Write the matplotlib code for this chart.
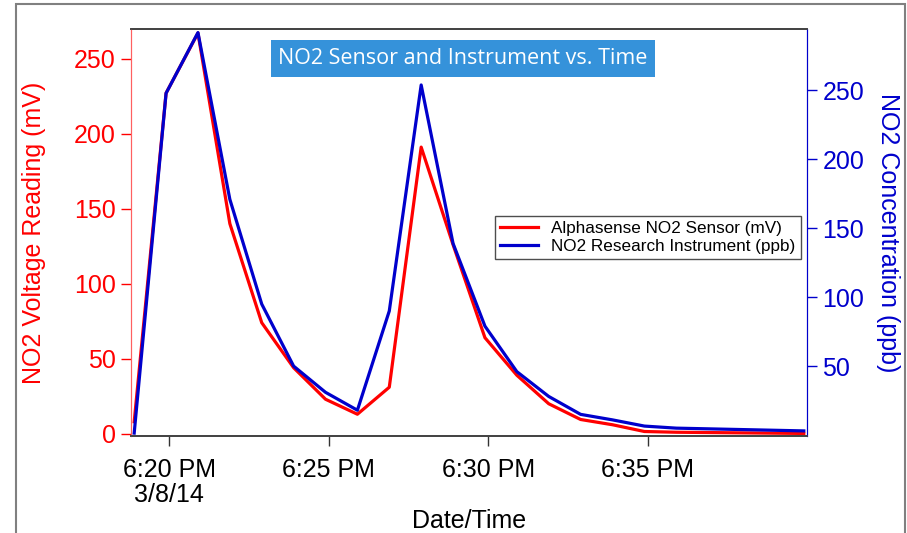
import matplotlib
matplotlib.use("Agg")
import matplotlib.pyplot as plt
import matplotlib.dates as mdates
from matplotlib.patches import Rectangle
import pandas as pd

# readings, one per minute
times = pd.date_range("2014-03-08 18:18:54", periods=22, freq="1min")
sensor_mv = [8, 227, 267, 140, 74, 44, 23, 13, 31, 191, 126, 64,
             39, 20, 9.5, 6, 1.5, 1.0, 0.8, 0.6, 0.4, 0.2]
instrument_ppb = [1.4, 248, 292, 171, 95, 50, 31, 18, 90, 254, 139, 79,
                  46, 28, 15, 11, 6.5, 5, 4.5, 4, 3.5, 3]
tick_times = pd.to_datetime(["2014-03-08 18:20", "2014-03-08 18:25",
                             "2014-03-08 18:30", "2014-03-08 18:35"])
tick_labels = ["6:20 PM\n3/8/14", "6:25 PM", "6:30 PM", "6:35 PM"]

plt.rcParams['font.family'] = ['Liberation Sans', 'DejaVu Sans']
RED = '#ff0000'
BLUE = '#0000cc'

fig = plt.figure(figsize=(9.07, 5.33), dpi=100)
ax = fig.add_axes([131/907, 1-436/533, (807-131)/907, (436-29)/533])
ax2 = ax.twinx()

l1, = ax.plot(times, sensor_mv, color=RED, lw=2.3, label='Alphasense NO2 Sensor (mV)')
l2, = ax2.plot(times, instrument_ppb, color=BLUE, lw=2.3, label='NO2 Research Instrument (ppb)')

ax.set_xlim(pd.Timestamp("2014-03-08 18:18:48"), pd.Timestamp("2014-03-08 18:40:00"))
ax.set_ylim(-1.5, 269.7)
ax2.set_ylim(-0.7, 294.6)

ax.set_xticks(tick_times)
ax.set_xticklabels(tick_labels, fontsize=18, linespacing=1.05)
ax.set_yticks([0, 50, 100, 150, 200, 250])
ax2.set_yticks([50, 100, 150, 200, 250])

ax.tick_params(axis='x', direction='out', length=7, width=1, color='#333333', pad=9)
ax.tick_params(axis='y', direction='out', length=7, width=1, colors=RED, labelsize=18, pad=4)
ax2.tick_params(axis='y', direction='out', length=7, width=1, colors=BLUE, labelsize=18, pad=4)

for a in (ax, ax2):
    a.spines['top'].set_color('#444444')
    a.spines['bottom'].set_color('#444444')
    a.spines['top'].set_linewidth(1.3)
    a.spines['bottom'].set_linewidth(1.3)
    a.spines['left'].set_color('#ff6060')
    a.spines['right'].set_color(BLUE)

ax.set_ylabel('NO2 Voltage Reading (mV)', color=RED, fontsize=18, labelpad=20)
ax2.set_ylabel('NO2 Concentration (ppb)', color=BLUE, fontsize=18, rotation=270, labelpad=26)
ax.set_xlabel('Date/Time', fontsize=18, labelpad=1)

leg = ax2.legend(handles=[l1, l2], loc='upper left', bbox_to_anchor=(495/907, 1-216/533),
                 bbox_transform=fig.transFigure, fontsize=12.3, frameon=True, fancybox=False,
                 handlelength=2.2, handletextpad=0.8, borderpad=0.3, labelspacing=0.15,
                 borderaxespad=0)
leg.get_frame().set_edgecolor('#222222')
leg.get_frame().set_linewidth(1.0)

fig.text(463/907, 1-58.5/533, 'NO2 Sensor and Instrument vs. Time', family='Open Sans',
         fontsize=15.5, color='white', ha='center', va='center',
         bbox=dict(boxstyle='square,pad=0.35', fc='#3592da', ec='none'))

# outer frame of the slide
fig.patches.append(Rectangle((16/907, -0.1), (905-16)/907, 1.1 - 4/533,
                             transform=fig.transFigure, fill=False,
                             ec='#808080', lw=1.5))

fig.savefig('out.png', dpi=100)
